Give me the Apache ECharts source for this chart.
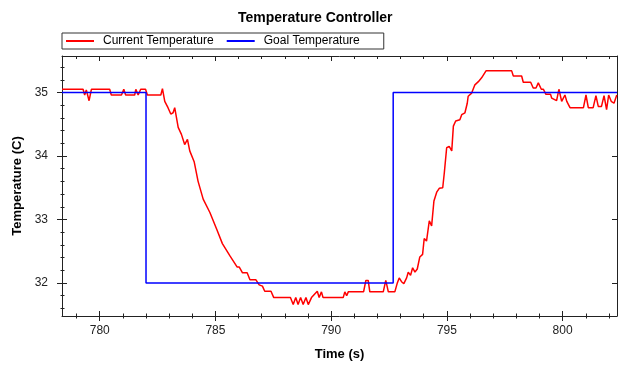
<!DOCTYPE html>
<html><head><meta charset="utf-8">
<script src="https://cdn.jsdelivr.net/npm/echarts@6/dist/echarts.min.js"></script>
<style>html,body{margin:0;padding:0;background:#fff}#c{width:618px;height:366px}</style>
</head><body><div id="c"></div>
<script>
// ---- data ----
const timeCurrent = [778.37,779.28,779.35,779.42,779.54,779.64,780.43,780.50,780.94,781.04,781.12,781.51,781.56,781.66,781.77,781.98,782.06,782.64,782.71,782.81,782.95,783.07,783.17,783.24,783.39,783.53,783.67,783.79,783.89,784.08,784.25,784.47,784.76,785.05,785.30,785.36,785.62,785.70,785.94,786.03,786.17,786.37,786.49,786.75,786.89,787.03,787.13,787.40,787.52,788.24,788.36,788.47,788.57,788.68,788.79,788.91,789.01,789.15,789.30,789.40,789.48,789.58,789.65,790.52,790.59,790.67,790.74,791.24,791.40,791.50,791.60,791.67,792.25,792.36,792.47,792.75,792.85,792.94,793.04,793.14,793.26,793.33,793.43,793.52,793.62,793.72,793.83,793.95,794.02,794.12,794.24,794.34,794.44,794.56,794.67,794.82,794.89,794.99,795.10,795.21,795.28,795.38,795.56,795.64,795.78,795.88,795.92,796.07,796.21,796.36,796.50,796.69,797.80,797.87,798.23,798.30,798.62,798.73,798.85,798.95,799.08,799.17,799.28,799.48,799.53,799.74,799.84,799.96,800.10,800.18,800.32,800.90,801.01,801.11,801.32,801.44,801.54,801.68,801.79,801.90,801.99,802.10,802.22,802.34];
const tempCurrent = [35.05,35.05,34.96,35.04,34.87,35.05,35.05,34.96,34.96,35.05,34.96,34.96,35.05,34.96,35.05,35.05,34.96,34.96,35.06,34.86,34.76,34.66,34.68,34.76,34.45,34.34,34.18,34.26,34.08,33.91,33.60,33.32,33.11,32.85,32.62,32.62,32.43,32.43,32.25,32.25,32.16,32.16,32.05,32.05,31.97,31.95,31.87,31.87,31.77,31.77,31.66,31.77,31.66,31.77,31.66,31.77,31.66,31.77,31.83,31.87,31.77,31.86,31.77,31.77,31.86,31.80,31.86,31.86,31.86,32.04,32.04,31.86,31.86,32.04,31.86,31.86,31.99,32.08,32.02,31.99,32.08,32.17,32.12,32.24,32.17,32.22,32.41,32.45,32.70,32.66,32.98,32.90,33.29,33.43,33.49,33.50,33.74,34.13,34.15,34.08,34.47,34.55,34.57,34.65,34.68,34.83,34.94,34.99,35.12,35.17,35.23,35.34,35.34,35.26,35.26,35.16,35.16,35.07,35.07,35.15,35.05,35.05,34.97,34.97,34.91,34.87,35.05,34.86,34.96,34.86,34.76,34.76,34.96,34.76,34.76,34.95,34.78,34.78,34.95,34.73,34.96,34.86,34.83,34.96];
const timeGoal = [778.37,782.0,782.0,792.68,792.68,802.35];
const tempGoal = [35,35,32,32,35,35];
const xMajorTicks = [780,785,790,795,800];
const xMinorTicks = [779,781,782,783,784,786,787,788,789,791,792,793,794,796,797,798,799,801,802];
const yMajorTicks = [32,33,34,35];
const yMinorTicks = [31.6,31.8,32.2,32.4,32.6,32.8,33.2,33.4,33.6,33.8,34.2,34.4,34.6,34.8,35.2,35.4];
const seriesNames = ['Current Temperature','Goal Temperature'];

const X_MIN = 778.37, X_MAX = 802.35, Y_MIN = 31.48, Y_MAX = 35.574;
const FONT = "'Liberation Sans', Arial, sans-serif";
const AX = '#222';

function zip(a, b) { return a.map((v, i) => [v, b[i]]); }
function baseX(o) {
  return Object.assign({type:'value', min:X_MIN, max:X_MAX, axisLine:{show:false}, axisTick:{show:false},
    axisLabel:{show:false}, splitLine:{show:false}, minorTick:{show:false}}, o);
}
function baseY(o) {
  return Object.assign({type:'value', min:Y_MIN, max:Y_MAX, axisLine:{show:false}, axisTick:{show:false},
    axisLabel:{show:false}, splitLine:{show:false}, minorTick:{show:false}}, o);
}
function tick(vals, len, inside) {
  return {show:true, customValues:vals, length:len, inside:!!inside, lineStyle:{color:AX, width:1}};
}

const chart = echarts.init(document.getElementById('c'), null, {renderer:'canvas'});
chart.setOption({
  backgroundColor:'#fff',
  animation:false,
  textStyle:{fontFamily:FONT},
  title:{text:'Temperature Controller', left:233, top:6,
    textStyle:{fontFamily:FONT, fontSize:14, fontWeight:'bold', color:'#000'}},
  legend:{data:seriesNames, left:62, top:33, orient:'horizontal', icon:'rect',
    borderColor:'#333', borderWidth:1, borderRadius:0, padding:[2,24,2,4],
    itemWidth:28, itemHeight:2, itemGap:13,
    textStyle:{fontFamily:FONT, fontSize:12, color:'#000', padding:[0,0,0,4]}},
  grid:{left:62, right:1, top:56, bottom:48, containLabel:false},
  xAxis:[
    baseX({position:'bottom', axisLine:{show:true, lineStyle:{color:AX, width:1}},
      axisLabel:{show:true, customValues:xMajorTicks, margin:9, fontSize:12, color:'#222', fontFamily:FONT},
      name:'Time (s)', nameLocation:'middle', nameGap:32,
      nameTextStyle:{fontFamily:FONT, fontSize:13, fontWeight:'bold', color:'#000'}}),
    baseX({position:'bottom', offset:-5, axisTick:tick(xMajorTicks, 10)}),
    baseX({position:'bottom', offset:-2.5, axisTick:tick(xMinorTicks, 5)}),
    baseX({position:'top', axisLine:{show:true, lineStyle:{color:AX, width:1}}, axisTick:tick(xMajorTicks, 5, true)}),
    baseX({position:'top', axisTick:tick(xMinorTicks, 3, true)})
  ],
  yAxis:[
    baseY({position:'left', axisLine:{show:true, lineStyle:{color:AX, width:1}},
      axisLabel:{show:true, customValues:yMajorTicks, margin:14, fontSize:12, color:'#222', fontFamily:FONT},
      name:'Temperature (C)', nameLocation:'middle', nameGap:38,
      nameTextStyle:{fontFamily:FONT, fontSize:13, fontWeight:'bold', color:'#000'}}),
    baseY({position:'left', offset:-5, axisTick:tick(yMajorTicks, 10)}),
    baseY({position:'left', offset:-2.5, axisTick:tick(yMinorTicks, 4)}),
    baseY({position:'right', axisLine:{show:true, lineStyle:{color:AX, width:1}}, axisTick:tick(yMajorTicks, 5, true)})
  ],
  series:[
    {name:seriesNames[0], type:'line', xAxisIndex:0, yAxisIndex:0, data:zip(timeCurrent, tempCurrent),
      symbol:'none', showSymbol:false, lineStyle:{color:'#ff0000', width:1.5}, itemStyle:{color:'#ff0000'}, z:2},
    {name:seriesNames[1], type:'line', xAxisIndex:0, yAxisIndex:0, data:zip(timeGoal, tempGoal),
      symbol:'none', showSymbol:false, lineStyle:{color:'#0000ff', width:1.5}, itemStyle:{color:'#0000ff'}, z:3}
  ]
});
</script>
</body></html>
